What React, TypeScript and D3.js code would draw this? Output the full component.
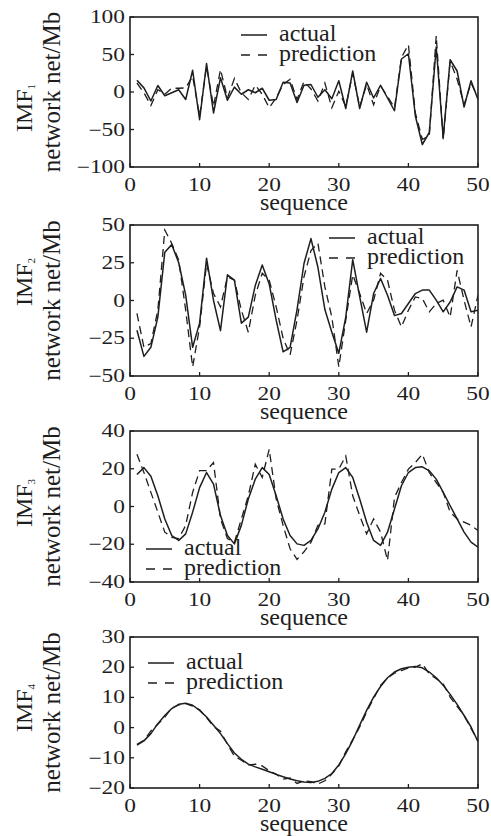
import React from "react";
import * as d3 from "d3";

const seq = d3.range(1, 51);

const imf1Actual = [15.8, 5.5, -12, 8.7, -5, -1, 3, -10, 29, -37, 38, -28, 19, -11, 6.5, -3, 3, -1, 5, -11, -10, 13, 12, -14, 9, 10, -7, 3, -9, 15, -22, 28, -22, 13, -8, 9, -8, -25, 44, 51, -32, -70, -54, 60, -61, 43, 28, -20, 15, -10];
const imf1Pred = [12, -1, -18, 3, -3, 5, 5, 5.5, 21, -32, 34, -19, 30, -8, 18, -1, -10, 9, -3, -21, -8, 10, 17, -10, 14, 4, -12, 12, -21, 1, -19, 25, -20, 10, -17, 8, -6, -21, 46, 63, -28, -63, -59, 75, -63, 41, 17, -17, 12, -8];

const imf2Actual = [-19.7, -37, -31, -11, 32, 37, 25, 3.5, -31, -15, 28, 0, -20, 17, 13.5, -15, -11, 10, 23.5, 11, -13, -34, -31, -6, 24.5, 41, 22, -6, -21, -35, -11, 27, 2.5, -21, 4.6, 14.6, 3.5, -10, -8.6, -2, 4.6, 6.9, 6.9, 0.2, -7.5, -1, 9, 6.9, -7.5, -6.4];
const imf2Pred = [-8.6, -31, -28.5, -6.4, 46.7, 37.8, 26.8, -6.4, -44, -17.5, 24.5, 4.6, -4.2, 15.7, 13.5, -6.4, -21, 3.5, 18, 13.5, -4.2, -25, -36, -13, 15.7, 33, 38, 9, -11, -44, -13, 17, 4.6, -8.6, 0.2, 18, 13.5, -6.4, -17.5, -6.4, 2.4, 1.3, -7.5, -2, 0.2, -11, 20, 0.2, -17.5, 3.5];

const imf3Actual = [17, 20.6, 16, 5.7, -6.6, -15.4, -18, -14.5, -3, 10, 18, 11.9, -4.8, -15.4, -19.8, -10, 4, 14.5, 20.6, 17, 5.7, -6.6, -15.4, -19.8, -20.6, -18, -11.9, -3, 9.2, 18, 20.6, 15.4, 4, -8.3, -18, -20.6, -13.6, -1.3, 11, 18, 20.6, 21, 18.9, 14.5, 7.5, 0.4, -6.6, -13.6, -18.9, -21.5];
const imf3Pred = [27.7, 18, 7.5, -3, -13.6, -16.3, -17, -10, 7.5, 19, 19, 23.3, -6.6, -17, -19, -6.6, 5.7, 22.4, 15.4, 30.3, 4, -10, -22.4, -28, -24, -19, -10, -9.2, 19.8, 19.8, 26.8, 5.7, -4.8, -14.5, -6.6, -13.6, -28.6, 4.8, 12.7, 19.8, 23.3, 27.7, 18, 12.7, 7.5, -3, -6.6, -8.3, -10, -12.7];

const imf4Actual = [-5.8, -4.4, -2, 1.3, 4, 6.3, 7.7, 8.1, 7.4, 5.7, 3.5, 0.8, -2, -5.3, -8.4, -10.5, -12.1, -13, -13.8, -14.6, -15.5, -16.3, -17, -17.6, -18, -18.2, -17.8, -16.8, -15.2, -12.4, -8.6, -4.2, 0.8, 5.7, 10.1, 13.6, 16.5, 18.4, 19.5, 20, 20.2, 19.8, 18.4, 16.5, 14, 11, 7.7, 4, 0.2, -4.7];
const imf4Pred = [-5.5, -4.2, -1.1, 1.1, 3.5, 6.5, 7.5, 7.9, 7.1, 5.9, 3.3, 0.4, -1.2, -5.5, -9.5, -10.8, -12.4, -12.1, -12.7, -14.3, -15.4, -17.1, -16.7, -18.5, -17.6, -17.9, -18.7, -17.6, -15.4, -12.7, -8, -4, 0.2, 5.2, 9.6, 14, 16.5, 18, 18.9, 19.8, 20, 21.1, 17.8, 16.2, 14.5, 10.1, 7, 4, -0.3, -4.4];

const xTicks = [0, 10, 20, 30, 40, 50];
const yTicks1 = [-100, -50, 0, 50, 100];
const yTicks2 = [-50, -25, 0, 25, 50];
const yTicks3 = [-40, -20, 0, 20, 40];
const yTicks4 = [-20, -10, 0, 10, 20, 30];

const labelActual = "actual";
const labelPred = "prediction";
const xLabel = "sequence";
const yLabel = "network net/Mb";
const imfNames = ["1", "2", "3", "4"];

const ink = "#1e1e1e";
const serifStyle = { fontFamily: "Liberation Serif, Times New Roman, Tinos, Times, serif" };

const X0 = 130;
const X1 = 478;

const panels = [
  { top: 17, bottom: 167, domain: [-100, 100], ticks: yTicks1, actual: imf1Actual, pred: imf1Pred, legend: { x: 241, y: 35 }, imfY: 108 },
  { top: 225, bottom: 376, domain: [-50, 50], ticks: yTicks2, actual: imf2Actual, pred: imf2Pred, legend: { x: 329, y: 238 }, imfY: 282 },
  { top: 431, bottom: 582, domain: [-40, 40], ticks: yTicks3, actual: imf3Actual, pred: imf3Pred, legend: { x: 146, y: 549 }, imfY: 503 },
  { top: 637, bottom: 788, domain: [-20, 30], ticks: yTicks4, actual: imf4Actual, pred: imf4Pred, legend: { x: 148, y: 663 }, imfY: 708 },
];

const fmt = (v: number) => (v < 0 ? "\u2212" + Math.abs(v) : String(v));

function Panel({ p, idx }: { p: (typeof panels)[number]; idx: number }) {
  const x = d3.scaleLinear().domain([0, 50]).range([X0, X1]);
  const y = d3.scaleLinear().domain(p.domain).range([p.bottom, p.top]);
  const line = d3
    .line<number>()
    .x((_, i) => x(seq[i]))
    .y((d) => y(d));
  const mid = (p.top + p.bottom) / 2;
  return (
    <g>
      <defs>
        <clipPath id={`clip${idx}`}>
          <rect x={X0} y={p.top} width={X1 - X0} height={p.bottom - p.top} />
        </clipPath>
      </defs>
      <g clipPath={`url(#clip${idx})`}>
        <path d={line(p.pred) || ""} fill="none" stroke={ink} strokeWidth={1.3} strokeDasharray="8,5" />
        <path d={line(p.actual) || ""} fill="none" stroke={ink} strokeWidth={1.5} strokeLinejoin="round" />
      </g>
      <rect x={X0} y={p.top} width={X1 - X0} height={p.bottom - p.top} fill="none" stroke={ink} strokeWidth={1.6} />
      {xTicks.map((t) => (
        <g key={"x" + t}>
          <line x1={x(t)} x2={x(t)} y1={p.bottom} y2={p.bottom - 4} stroke={ink} strokeWidth={1.3} />
          <text
            transform={`translate(${x(t)},${p.bottom + 24}) scale(1.3,1)`}
            textAnchor="middle"
            style={serifStyle}
            fontSize={18}
            fill={ink}
          >
            {fmt(t)}
          </text>
        </g>
      ))}
      {p.ticks.map((t) => (
        <g key={"y" + t}>
          <line x1={X0} x2={X0 + 4} y1={y(t)} y2={y(t)} stroke={ink} strokeWidth={1.3} />
          <text
            transform={`translate(${X0 - 5},${y(t) + 6}) scale(1.3,1)`}
            textAnchor="end"
            style={serifStyle}
            fontSize={18}
            fill={ink}
          >
            {fmt(t)}
          </text>
        </g>
      ))}
      <text x={(X0 + X1) / 2} y={p.bottom + 43} textAnchor="middle" style={serifStyle} fontSize={24} fill={ink}>
        {xLabel}
      </text>
      <text
        transform={`translate(60,${mid}) rotate(-90)`}
        textAnchor="middle"
        style={serifStyle}
        fontSize={25}
        fill={ink}
      >
        {yLabel}
      </text>
      <text
        transform={`translate(32,${p.imfY}) rotate(-90)`}
        textAnchor="middle"
        style={serifStyle}
        fontSize={24}
        fill={ink}
      >
        IMF
        <tspan fontSize={11} dy={3}>
          {imfNames[idx]}
        </tspan>
      </text>
      <g>
        <line x1={p.legend.x} x2={p.legend.x + 26} y1={p.legend.y} y2={p.legend.y} stroke={ink} strokeWidth={1.5} />
        <text x={p.legend.x + 38} y={p.legend.y + 6} style={serifStyle} fontSize={24} fill={ink}>
          {labelActual}
        </text>
        <line
          x1={p.legend.x}
          x2={p.legend.x + 26}
          y1={p.legend.y + 20}
          y2={p.legend.y + 20}
          stroke={ink}
          strokeWidth={1.5}
          strokeDasharray="9,8"
        />
        <text x={p.legend.x + 38} y={p.legend.y + 26} style={serifStyle} fontSize={24} fill={ink}>
          {labelPred}
        </text>
      </g>
    </g>
  );
}

export default function App() {
  return (
    <svg
      width={491}
      height={836}
      viewBox="0 0 491 836"
      style={{ position: "absolute", left: 0, top: 0, background: "#fff" }}
    >
      <rect width={491} height={836} fill="#fff" />
      {panels.map((p, i) => (
        <Panel key={i} p={p} idx={i} />
      ))}
    </svg>
  );
}
